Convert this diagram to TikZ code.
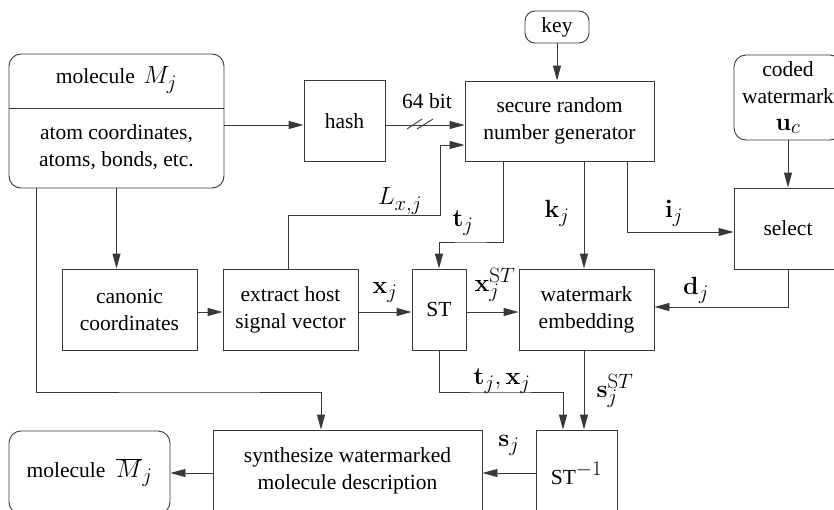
\documentclass[tikz,border=0pt]{standalone}
\usepackage[no-math]{fontspec}
\setmainfont{Liberation Serif}
\usetikzlibrary{arrows.meta,calc}
\definecolor{ln}{gray}{0.22}
\newcommand\mth[1]{{\fontsize{24.88}{27}\selectfont$#1$}}
\begin{document}
\begin{tikzpicture}[x=1pt,y=-1pt,
  every node/.style={font=\fontsize{21.5}{27}\selectfont},
  box/.style={draw=ln, line width=0.9pt, inner sep=0pt, align=center},
  rbox/.style={box, rounded corners=12pt},
  lbl/.style={inner sep=0pt},
  conn/.style={draw=ln, line width=0.9pt},
  arr/.style={conn, -{Triangle[length=15pt,width=8pt]}}]
\useasboundingbox (0,0) rectangle (834,509);
\clip (0,0) rectangle (834,509);

% nodes
\node[rbox, minimum width=215pt, minimum height=134pt] (mol) at (116.5,121) {};
\coordinate (dv) at (0,108);
\draw[conn] (mol.west |- dv) -- (mol.east |- dv);
\node[lbl] (molt) at (116.5,80) {molecule\hspace{0.4em}\mth{M_j}};
\node[lbl, align=center] (atoms) at (116.5,147) {atom coordinates,\\atoms, bonds, etc.};

\node[box, minimum width=81pt, minimum height=81pt] (hash) at (344.5,121) {hash};
\node[box, minimum width=189pt, minimum height=80pt] (srng) at (559.5,121) {secure random\\number generator};
\node[rbox, rounded corners=10pt, minimum width=64pt, minimum height=32pt] (key) at (557,27) {key};
\node[rbox, minimum width=108pt, minimum height=85pt] (coded) at (788,97.5) {coded\\watermark\\\mth{\mathbf{u}_c}};
\node[box, minimum width=108pt, minimum height=81pt] (sel) at (788,228.5) {select};

\node[box, minimum width=135pt, minimum height=81pt] (canon) at (129.5,309.5) {canonic\\coordinates};
\node[box, minimum width=135pt, minimum height=81pt] (extract) at (290.5,309.5) {extract host\\signal vector};
\node[box, minimum width=54pt, minimum height=81pt] (st) at (439,309.5) {ST};
\node[box, minimum width=135pt, minimum height=81pt] (wm) at (586.5,309.5) {watermark\\embedding};

\node[box, minimum width=81pt, minimum height=86pt] (stinv) at (576.5,473) {ST\mth{^{-1}}};
\node[box, minimum width=269pt, minimum height=82pt] (synth) at (347.5,471) {synthesize watermarked\\molecule description};
\node[rbox, minimum width=161pt, minimum height=83pt] (molbar) at (89.5,472.5) {molecule\hspace{0.5em}\mth{\overline{M}_{j}}};

% helper coordinates
\coordinate (lc) at (440,215);
\coordinate (tc) at (470,242);
\coordinate (mc) at (200,392);
\coordinate (sc) at (500,392);

% connectors
\draw[arr] ([yshift=-4pt]mol.east) -- ([yshift=-4pt]hash.west);
\draw[arr] ([yshift=-4pt]hash.east) -- ([yshift=-4pt]srng.west);
\coordinate (s1a) at (407,129); \coordinate (s1b) at (422,119);
\coordinate (s2a) at (417,129); \coordinate (s2b) at (433,119);
\draw[conn] (s1a) -- (s1b) (s2a) -- (s2b);
\draw[arr] (key.south) -- (key.south |- srng.north);
\draw[arr] ([xshift=-2.5pt]extract.north) |- (lc) |- ([yshift=-24pt]srng.west);
\draw[arr] ([xshift=-56.5pt]srng.south) |- (tc) -| (st.north);
\draw[arr] ([xshift=24.5pt]srng.south) -- ([xshift=24.5pt]srng.south |- wm.north);
\draw[arr] ([xshift=67.5pt]srng.south) |- ([yshift=-3.5pt]sel.west);
\draw[arr] (coded.south) -- (sel.north);
\draw[arr] (sel.south) |- ([yshift=2.5pt]wm.east);
\draw[arr] (mol.south) -- (mol.south |- canon.north);
\draw[arr] ([yshift=-2.5pt]canon.east) -- ([yshift=-2.5pt]extract.west);
\draw[arr] ([yshift=-2.5pt]extract.east) -- ([yshift=-2.5pt]st.west);
\draw[arr] ([yshift=-2.5pt]st.east) -- ([yshift=-2.5pt]wm.west);
\draw[arr] ([xshift=-80.5pt]mol.south) |- (mc) -| ([xshift=-26.5pt]synth.north);
\draw[arr] (st.south) |- (sc) -| ([xshift=-13.5pt]stinv.north);
\draw[arr] ([xshift=-2.5pt]wm.south) -- ([xshift=-2.5pt]wm.south |- stinv.north);
\draw[arr] (stinv.west) -- (stinv.west -| synth.east);
\draw[arr] (synth.west |- stinv.west) -- (molbar.east |- stinv.west);

% labels
\node[lbl] (l64) at (427,101) {64 bit};
\node[lbl] (lL) at (400,201) {\mth{L_{x,j}}};
\node[lbl] (lt) at (463,223) {\mth{\mathbf{t}_j}};
\node[lbl] (lk) at (557,213) {\mth{\mathbf{k}_j}};
\node[lbl] (li) at (674,213) {\mth{\mathbf{i}_j}};
\node[lbl] (lx) at (385,292) {\mth{\mathbf{x}_j}};
\node[lbl] (lxst) at (495,285) {\mth{\mathbf{x}_j^{\mathrm{S}T}}};
\node[lbl] (ld) at (696,290) {\mth{\mathbf{d}_j}};
\node[lbl] (ltx) at (502,381) {\mth{\mathbf{t}_j,\mathbf{x}_j}};
\node[lbl] (lsst) at (615,391) {\mth{\mathbf{s}_j^{\mathrm{S}T}}};
\node[lbl] (ls) at (509,445) {\mth{\mathbf{s}_j}};
\end{tikzpicture}
\end{document}
